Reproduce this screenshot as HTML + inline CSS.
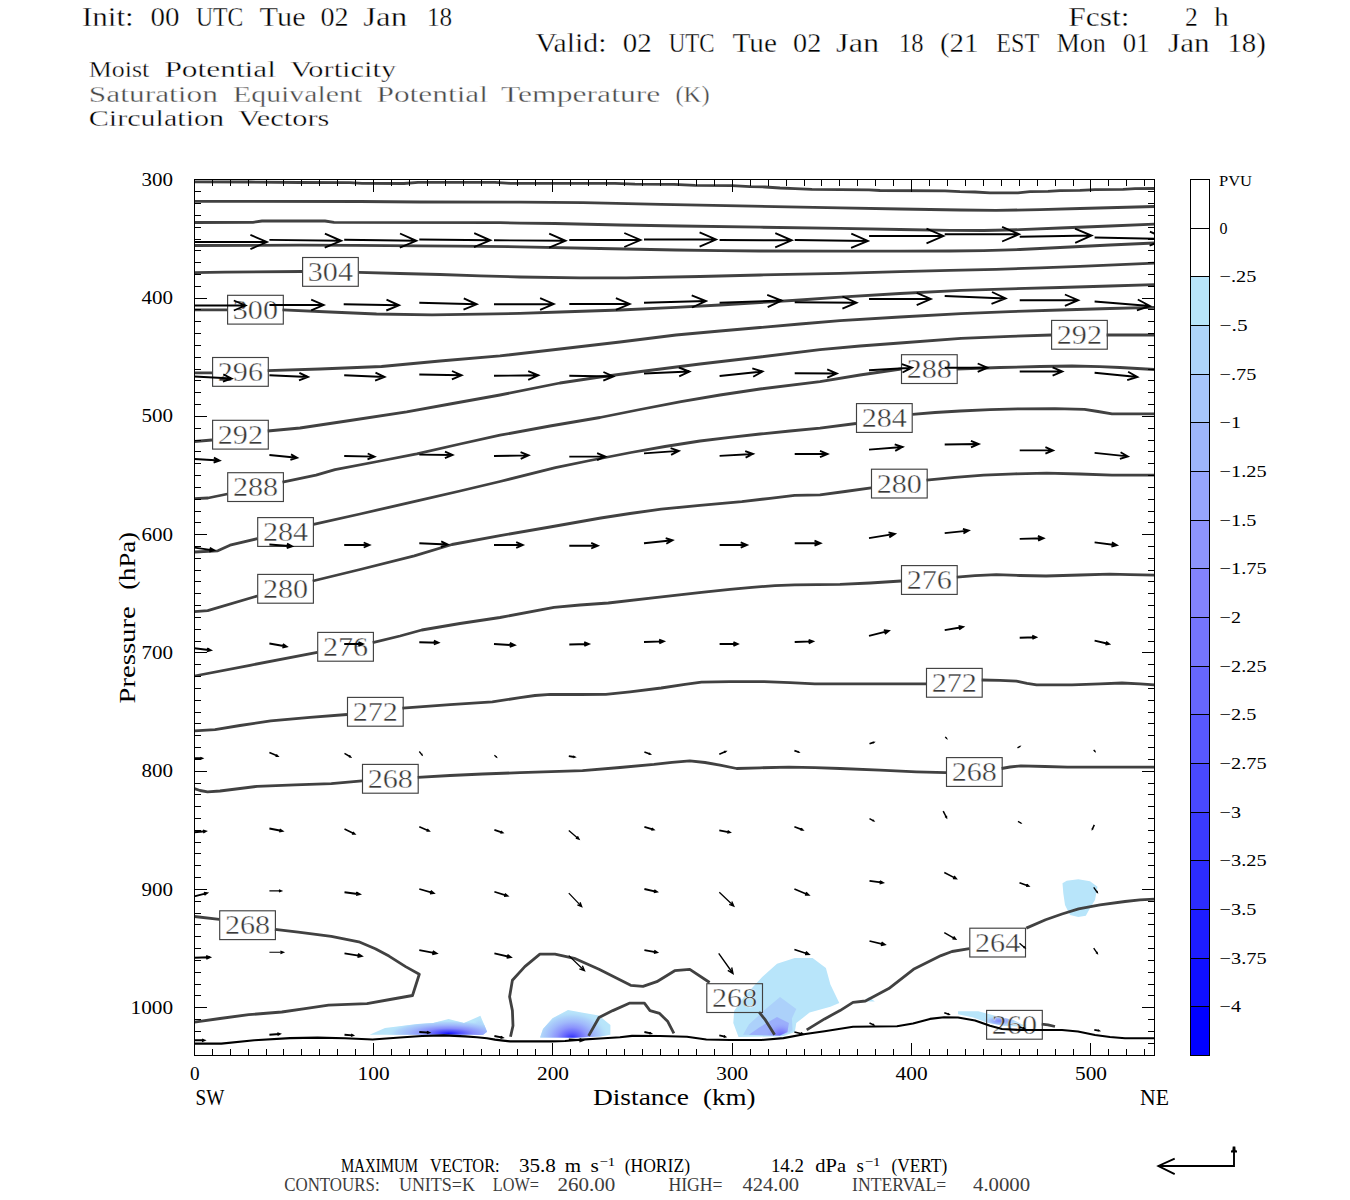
<!DOCTYPE html>
<html lang="en"><head><meta charset="utf-8"><title>Moist Potential Vorticity cross section</title>
<style>
html,body{margin:0;padding:0;background:#fff;}
svg{display:block;}
text{font-family:"Liberation Serif",serif;fill:#000;white-space:pre;}
.ax{font-size:18.4px;}
.lab{font-size:27px;fill:#383838;stroke:#fff;stroke-width:0.4px;}
.ct{fill:none;stroke:#414141;stroke-width:2.8;stroke-linejoin:round;stroke-linecap:butt;}
.bx{fill:none;stroke:#414141;stroke-width:1.15;}
.ar{fill:none;stroke:#000;stroke-width:1.25;stroke-linecap:butt;stroke-linejoin:miter;}
.tk{stroke:#000;stroke-width:1;fill:none;shape-rendering:crispEdges;}
</style></head><body>
<svg width="1350" height="1200" viewBox="0 0 1350 1200">
<rect x="0" y="0" width="1350" height="1200" fill="#fff"/>
<defs>
<clipPath id="pc"><rect x="194.5" y="179.5" width="960.0" height="876.0"/></clipPath>
<radialGradient id="g1" gradientUnits="userSpaceOnUse" cx="0" cy="0" r="1" gradientTransform="translate(448.6 1033.5) scale(62.0 13.0)">
<stop offset="0.00" stop-color="#1414ff"/>
<stop offset="0.18" stop-color="#5050fe"/>
<stop offset="0.40" stop-color="#878cfc"/>
<stop offset="0.65" stop-color="#a0b9fb"/>
<stop offset="0.85" stop-color="#aed4fa"/>
<stop offset="1.00" stop-color="#b8e5fa" stop-opacity="0"/>
</radialGradient>
<radialGradient id="g1b" gradientUnits="userSpaceOnUse" cx="0" cy="0" r="1" gradientTransform="translate(479.0 1034.0) scale(9.0 16.0)">
<stop offset="0.00" stop-color="#7d80fd"/>
<stop offset="0.50" stop-color="#a0b9fb"/>
<stop offset="1.00" stop-color="#b8e5fa" stop-opacity="0"/>
</radialGradient>
<radialGradient id="g2" gradientUnits="userSpaceOnUse" cx="0" cy="0" r="1" gradientTransform="translate(571.9 1038.5) scale(38.0 28.0)">
<stop offset="0.00" stop-color="#2828fe"/>
<stop offset="0.20" stop-color="#6464fd"/>
<stop offset="0.40" stop-color="#8c94fc"/>
<stop offset="0.60" stop-color="#a0b9fb"/>
<stop offset="0.80" stop-color="#aed4fa"/>
<stop offset="1.00" stop-color="#b8e5fa" stop-opacity="0"/>
</radialGradient>
<radialGradient id="g3" gradientUnits="userSpaceOnUse" cx="0" cy="0" r="1" gradientTransform="translate(781.0 1036.0) scale(16.0 14.0)">
<stop offset="0.00" stop-color="#6464fd"/>
<stop offset="0.45" stop-color="#878cfc"/>
<stop offset="1.00" stop-color="#9baffb" stop-opacity="0"/>
</radialGradient>
<radialGradient id="g5" gradientUnits="userSpaceOnUse" cx="0" cy="0" r="1" gradientTransform="translate(1000.0 1021.0) scale(18.0 6.0)">
<stop offset="0.00" stop-color="#7d82fd"/>
<stop offset="0.50" stop-color="#a0b9fb"/>
<stop offset="1.00" stop-color="#b8e5fa" stop-opacity="0"/>
</radialGradient>
</defs>
<g clip-path="url(#pc)">
<polygon points="369.6,1034.7 385.0,1027.9 417.8,1024.1 433.2,1023.1 448.6,1018.9 464.0,1023.1 480.4,1015.8 487.1,1031.8 483.0,1034.7" fill="#b8e5fa"/>
<polygon points="369.6,1034.7 385.0,1027.9 417.8,1024.1 433.2,1023.1 448.6,1018.9 464.0,1023.1 480.4,1015.8 487.1,1031.8 483.0,1034.7" fill="url(#g1b)"/>
<polygon points="369.6,1034.7 385.0,1027.9 417.8,1024.1 433.2,1023.1 448.6,1018.9 464.0,1023.1 480.4,1015.8 487.1,1031.8 483.0,1034.7" fill="url(#g1)"/>
<polygon points="540.1,1037.6 543.0,1028.9 552.6,1018.3 568.0,1010.0 581.5,1012.5 598.8,1015.4 610.4,1025.0 610.4,1034.7 600.0,1036.5 575.0,1037.8" fill="#b8e5fa"/>
<polygon points="540.1,1037.6 543.0,1028.9 552.6,1018.3 568.0,1010.0 581.5,1012.5 598.8,1015.4 610.4,1025.0 610.4,1034.7 600.0,1036.5 575.0,1037.8" fill="url(#g2)"/>
<polygon points="734.1,1011.1 744.4,996.3 762.2,977.0 777.0,963.7 794.8,958.1 812.6,958.1 825.9,968.1 830.4,984.4 839.3,1003.0 830.4,1006.7 809.6,1012.6 796.3,1023.0 794.8,1031.9 783.0,1036.3 738.5,1037.0 733.3,1023.0" fill="#b8e5fa"/>
<polygon points="743.0,1034.8 748.9,1024.4 765.2,1009.6 780.0,997.0 796.3,1008.9 791.9,1018.5 792.6,1030.4 783.0,1035.6" fill="#acd1fa"/>
<polygon points="748.9,1034.8 759.3,1027.4 777.0,1017.0 788.9,1023.0 787.4,1031.9 780.0,1035.6" fill="#9baffb"/>
<polygon points="748.9,1034.8 759.3,1027.4 777.0,1017.0 788.9,1023.0 787.4,1031.9 780.0,1035.6" fill="url(#g3)"/>
<polygon points="863,1001.5 869,997 874.8,1001.5" fill="#b8e5fa"/>
<polygon points="1062.5,883.3 1066.7,880.8 1078.3,879.2 1090.0,881.3 1097.5,886.7 1095.0,900.0 1090.8,906.7 1085.8,915.8 1078.3,917.0 1070.0,915.0 1065.0,905.0 1063.3,893.3" fill="#b8e5fa"/>
<polygon points="958.0,1011.3 978.3,1011.3 995.0,1015.8 1013.3,1020.0 1023.3,1025.0 1025.0,1026.7 1003.3,1025.8 986.7,1022.5 973.3,1017.5 958.0,1014.2" fill="#b8e5fa"/>
<polygon points="958.0,1011.3 978.3,1011.3 995.0,1015.8 1013.3,1020.0 1023.3,1025.0 1025.0,1026.7 1003.3,1025.8 986.7,1022.5 973.3,1017.5 958.0,1014.2" fill="url(#g5)"/>
</g>
<g clip-path="url(#pc)">
<polyline class="ct" points="194.4,181.8 250.0,182.0 300.0,182.5 350.0,182.7 362.0,183.4 404.0,183.5 418.0,182.4 495.0,182.4 510.0,183.3 615.0,183.3 635.0,184.2 674.0,184.3 695.0,185.3 732.0,185.6 750.0,186.6 765.0,187.0 780.0,188.0 795.0,188.6 812.0,189.4 869.0,189.8 880.0,190.5 945.0,190.8 960.0,191.6 975.0,192.0 990.0,192.9 1018.0,192.9 1030.0,191.7 1048.0,191.3 1060.0,190.6 1080.0,190.3 1095.0,189.6 1123.0,189.4 1135.0,188.7 1154.5,188.5"/>
<polyline class="ct" points="194.4,201.3 360.0,201.5 420.0,202.0 520.0,202.2 583.0,202.7 661.0,204.3 752.0,206.2 840.0,207.8 900.0,209.0 960.0,210.0 996.0,210.3 1040.0,209.7 1080.0,208.5 1154.5,206.5"/>
<polyline class="ct" points="194.4,222.5 253.0,222.3 262.0,221.0 325.0,221.0 334.0,222.3 500.0,222.6 520.0,223.1 555.0,223.5 620.0,225.0 680.0,226.0 760.0,227.2 840.0,228.4 900.0,229.5 950.0,230.3 983.7,230.5 1020.0,229.7 1060.0,228.0 1110.0,226.0 1154.5,224.2"/>
<polyline class="ct" points="194.4,245.5 300.0,245.2 356.0,245.3 420.0,245.8 457.0,246.2 520.0,246.8 600.0,248.5 676.0,250.0 720.0,250.6 760.0,251.0 840.0,251.1 900.0,251.2 950.0,251.0 983.7,250.6 1020.0,249.5 1060.0,247.5 1110.0,245.0 1154.5,243.0"/>
<polyline class="ct" points="194.4,272.7 225.0,272.1 302.0,271.5"/>
<polyline class="ct" points="359.0,272.3 400.0,273.5 440.0,274.5 480.0,275.8 520.0,277.0 580.0,277.8 626.0,277.8 700.0,276.5 760.0,275.0 840.0,273.3 900.0,271.6 950.0,270.4 996.0,269.4 1040.0,267.9 1080.0,266.3 1154.5,263.2"/>
<polyline class="ct" points="194.4,309.8 227.0,309.8"/>
<polyline class="ct" points="282.5,309.8 330.0,312.0 376.5,314.0 432.0,314.8 480.0,314.2 520.0,313.4 560.0,312.0 620.0,310.0 676.0,307.3 720.0,305.0 760.0,302.5 800.0,300.0 840.0,297.2 900.0,293.5 961.0,290.4 1010.0,288.8 1060.0,287.5 1110.0,286.0 1154.5,284.6"/>
<polyline class="ct" points="194.4,372.8 212.0,372.8"/>
<polyline class="ct" points="267.7,370.7 320.0,369.0 381.5,366.5 440.0,361.0 500.0,355.9 560.0,349.0 620.0,342.0 676.0,335.0 720.0,331.0 760.0,327.5 800.0,324.0 840.0,320.6 900.0,317.0 961.0,313.6 1010.0,311.6 1060.0,310.0 1110.0,308.5 1154.5,307.3"/>
<polyline class="ct" points="194.4,441.5 212.0,440.0"/>
<polyline class="ct" points="267.7,431.0 300.0,428.0 350.0,420.5 406.7,411.8 450.0,404.0 500.0,395.0 560.0,383.0 600.0,377.0 641.0,371.5 700.0,364.0 760.0,357.0 820.0,349.6 860.0,346.0 900.0,343.0 961.0,338.3 1010.0,336.3 1051.2,335.0"/>
<polyline class="ct" points="1106.6,335.0 1154.5,335.0"/>
<polyline class="ct" points="194.4,498.6 208.0,498.0 227.4,494.0"/>
<polyline class="ct" points="282.5,482.2 316.0,475.2 335.0,469.7 375.0,462.0 416.8,453.8 460.0,444.0 500.0,435.2 550.0,426.0 600.0,417.5 640.0,409.5 681.0,401.7 720.0,395.0 760.0,389.0 820.0,381.6 860.0,375.0 901.0,369.0"/>
<polyline class="ct" points="956.8,369.0 1000.0,367.5 1040.0,366.5 1072.0,366.0 1100.0,366.6 1120.0,367.5 1154.5,369.5"/>
<polyline class="ct" points="194.4,552.0 217.8,550.8 230.0,545.2 257.3,538.7"/>
<polyline class="ct" points="313.5,524.3 360.0,514.0 419.3,500.4 460.0,491.0 500.0,481.5 555.4,467.6 590.0,460.5 631.0,452.5 665.0,446.5 700.0,441.0 730.0,437.3 760.0,434.0 790.0,431.0 820.0,428.2 856.0,423.5"/>
<polyline class="ct" points="912.4,414.3 935.0,412.5 960.0,411.0 990.0,409.7 1021.5,408.8 1055.0,408.7 1084.5,409.3 1098.0,411.5 1112.0,413.8 1154.5,413.8"/>
<polyline class="ct" points="194.4,611.7 207.7,610.7 257.3,596.0"/>
<polyline class="ct" points="312.7,581.0 360.0,569.5 414.3,555.8 452.0,544.5 500.0,535.6 550.0,527.0 600.8,518.0 630.0,513.5 661.2,509.2 700.0,505.3 741.8,501.6 770.0,498.3 794.7,495.3 820.0,494.8 845.0,491.5 871.1,487.8"/>
<polyline class="ct" points="926.5,480.2 955.0,477.3 983.7,475.2 1015.0,473.8 1046.7,473.2 1080.0,474.0 1112.0,475.2 1154.5,475.2"/>
<polyline class="ct" points="194.4,676.0 250.0,665.3 317.3,652.3"/>
<polyline class="ct" points="372.7,642.7 400.0,636.0 421.8,630.0 460.0,623.5 500.0,617.5 554.0,607.4 580.0,605.0 608.3,603.0 655.0,597.7 701.5,592.3 730.0,589.3 752.0,587.3 775.0,585.7 794.7,584.8 840.0,584.3 870.0,583.0 901.0,581.0"/>
<polyline class="ct" points="956.8,577.2 975.0,575.7 996.3,574.7 1020.0,575.5 1046.0,576.0 1080.0,575.0 1109.7,574.2 1130.0,574.6 1154.5,575.2"/>
<polyline class="ct" points="194.4,730.9 215.0,729.6 240.0,725.5 270.7,720.8 310.0,717.3 347.0,714.5"/>
<polyline class="ct" points="402.4,708.2 450.0,704.7 492.3,701.9 520.0,697.6 535.0,695.5 550.4,694.3 580.0,694.5 605.8,694.3 630.0,691.8 661.2,688.0 685.0,684.3 701.5,682.2 730.0,681.6 764.0,681.7 790.0,682.7 814.9,683.8 870.0,683.8 926.0,683.8"/>
<polyline class="ct" points="981.7,680.0 1000.0,680.3 1016.5,681.2 1027.0,683.3 1036.6,684.8 1072.0,684.8 1100.0,683.8 1122.0,683.0 1140.0,683.8 1154.5,684.8"/>
<polyline class="ct" points="194.4,788.6 200.0,790.5 207.5,791.9 220.0,791.0 257.0,786.4 295.0,784.8 331.3,783.6 362.1,780.9"/>
<polyline class="ct" points="417.7,777.3 450.0,775.5 482.6,774.0 520.0,772.6 582.5,770.7 620.0,767.5 654.0,764.4 672.0,762.3 689.8,760.8 705.0,762.5 720.0,765.2 736.6,768.5 760.0,767.8 788.9,767.1 815.0,767.7 840.0,768.5 880.0,770.2 916.3,771.8 946.0,772.6"/>
<polyline class="ct" points="1001.6,768.5 1010.0,767.0 1020.8,765.8 1045.0,766.5 1067.6,767.1 1154.5,767.1"/>
<polyline class="ct" points="194.4,916.5 219.3,919.3"/>
<polyline class="ct" points="274.9,929.4 298.3,932.2 331.3,936.3 358.8,941.8 375.3,948.7 389.0,956.1 405.6,966.6 419.3,974.3 412.5,995.5 390.0,999.5 367.0,1003.7 328.6,1005.1 305.0,1008.6 281.8,1012.0 248.8,1014.7 220.0,1018.5 194.4,1022.2"/>
<polyline class="ct" points="510.5,1036.7 513.0,1025.7 512.4,1010.6 509.6,996.8 512.4,980.3 524.8,966.6 539.9,954.2 555.0,954.2 574.3,958.3 599.0,969.3 630.7,985.3 643.0,986.4 656.8,981.7 674.7,970.7 689.8,969.3 709.6,982.5"/>
<polyline class="ct" points="759.0,1012.0 765.5,1020.2 774.6,1034.8"/>
<polyline class="ct" points="588.6,1035.9 599.0,1017.5 612.8,1010.6 629.3,1003.2 644.4,1003.2 650.0,1010.6 659.6,1013.4 667.8,1021.6 673.9,1033.4"/>
<polyline class="ct" points="806.7,1029.9 824.6,1018.9 840.0,1010.6 853.0,1002.4 865.4,1001.0 888.8,988.6 913.5,969.3 941.0,955.6 952.0,951.5 969.4,948.7"/>
<polyline class="ct" points="1026.3,928.1 1045.6,919.8 1062.0,914.0 1078.6,908.8 1100.0,904.8 1125.0,901.5 1140.0,899.8 1154.5,899.2"/>
<polyline class="ct" points="1041.7,1024.2 1048.0,1024.8 1055.0,1026.5"/>
</g>
<rect class="bx" x="302.6" y="257.5" width="55.7" height="28.8"/>
<text class="lab" x="307.8" y="281.1" textLength="45.2" lengthAdjust="spacingAndGlyphs">304</text>
<rect class="bx" x="227.6" y="295.3" width="55.7" height="28.8"/>
<text class="lab" x="232.8" y="318.9" textLength="45.2" lengthAdjust="spacingAndGlyphs">300</text>
<rect class="bx" x="212.6" y="357.5" width="55.7" height="28.8"/>
<text class="lab" x="217.8" y="381.1" textLength="45.2" lengthAdjust="spacingAndGlyphs">296</text>
<rect class="bx" x="212.6" y="420.3" width="55.7" height="28.8"/>
<text class="lab" x="217.8" y="443.9" textLength="45.2" lengthAdjust="spacingAndGlyphs">292</text>
<rect class="bx" x="227.7" y="472.7" width="55.7" height="28.8"/>
<text class="lab" x="232.9" y="496.3" textLength="45.2" lengthAdjust="spacingAndGlyphs">288</text>
<rect class="bx" x="257.7" y="517.6" width="55.7" height="28.8"/>
<text class="lab" x="262.9" y="541.2" textLength="45.2" lengthAdjust="spacingAndGlyphs">284</text>
<rect class="bx" x="257.7" y="574.4" width="55.7" height="28.8"/>
<text class="lab" x="262.9" y="598.0" textLength="45.2" lengthAdjust="spacingAndGlyphs">280</text>
<rect class="bx" x="317.7" y="632.4" width="55.7" height="28.8"/>
<text class="lab" x="322.9" y="656.0" textLength="45.2" lengthAdjust="spacingAndGlyphs">276</text>
<rect class="bx" x="347.5" y="697.4" width="55.7" height="28.8"/>
<text class="lab" x="352.7" y="721.0" textLength="45.2" lengthAdjust="spacingAndGlyphs">272</text>
<rect class="bx" x="362.5" y="764.4" width="55.7" height="28.8"/>
<text class="lab" x="367.7" y="788.0" textLength="45.2" lengthAdjust="spacingAndGlyphs">268</text>
<rect class="bx" x="219.7" y="910.8" width="55.7" height="28.8"/>
<text class="lab" x="224.9" y="934.4" textLength="45.2" lengthAdjust="spacingAndGlyphs">268</text>
<rect class="bx" x="1051.6" y="320.4" width="55.7" height="28.8"/>
<text class="lab" x="1056.8" y="344.0" textLength="45.2" lengthAdjust="spacingAndGlyphs">292</text>
<rect class="bx" x="901.5" y="354.7" width="55.7" height="28.8"/>
<text class="lab" x="906.7" y="378.3" textLength="45.2" lengthAdjust="spacingAndGlyphs">288</text>
<rect class="bx" x="856.5" y="403.6" width="55.7" height="28.8"/>
<text class="lab" x="861.7" y="427.2" textLength="45.2" lengthAdjust="spacingAndGlyphs">284</text>
<rect class="bx" x="871.5" y="469.2" width="55.7" height="28.8"/>
<text class="lab" x="876.7" y="492.8" textLength="45.2" lengthAdjust="spacingAndGlyphs">280</text>
<rect class="bx" x="901.5" y="565.6" width="55.7" height="28.8"/>
<text class="lab" x="906.7" y="589.2" textLength="45.2" lengthAdjust="spacingAndGlyphs">276</text>
<rect class="bx" x="926.5" y="668.4" width="55.7" height="28.8"/>
<text class="lab" x="931.7" y="692.0" textLength="45.2" lengthAdjust="spacingAndGlyphs">272</text>
<rect class="bx" x="946.5" y="757.6" width="55.7" height="28.8"/>
<text class="lab" x="951.7" y="781.2" textLength="45.2" lengthAdjust="spacingAndGlyphs">268</text>
<rect class="bx" x="969.8" y="928.2" width="55.7" height="28.8"/>
<text class="lab" x="975.0" y="951.8" textLength="45.2" lengthAdjust="spacingAndGlyphs">264</text>
<rect class="bx" x="706.8" y="983.7" width="55.7" height="28.8"/>
<text class="lab" x="712.0" y="1007.3" textLength="45.2" lengthAdjust="spacingAndGlyphs">268</text>
<rect class="bx" x="986.6" y="1010.4" width="55.7" height="28.8"/>
<text class="lab" x="991.8" y="1034.0" textLength="45.2" lengthAdjust="spacingAndGlyphs">260</text>
<polyline points="194.4,1043.6 221.3,1043.6 254.3,1040.3 290.0,1038.1 317.6,1037.6 345.0,1038.3 372.6,1039.5 400.0,1037.5 422.0,1036.0 444.0,1035.4 465.0,1036.4 477.0,1037.2 487.0,1038.3 495.0,1039.6 503.0,1040.6 510.0,1041.4 552.0,1041.4 565.0,1041.0 581.5,1039.6 600.0,1038.5 620.0,1037.2 632.0,1035.9 660.0,1036.0 687.0,1036.7 706.3,1039.5 730.0,1040.0 761.3,1040.0 783.4,1038.1 805.4,1034.0 824.6,1031.2 853.0,1026.8 897.0,1026.3 913.0,1023.5 930.0,1018.9 944.0,1017.3 958.0,1017.5 975.0,1020.5 990.0,1025.8 1002.0,1029.0 1020.0,1030.0 1062.0,1030.0 1078.0,1031.5 1095.0,1035.0 1110.0,1037.0 1125.0,1038.3 1154.5,1038.3" fill="none" stroke="#000" stroke-width="2.1" stroke-linejoin="round" clip-path="url(#pc)"/>
<g clip-path="url(#pc)">
<path class="ar" style="stroke-width:1.90" d="M194.4 242.0L266.9 242.0M250.4 249.1L266.9 242.0L250.4 234.9"/>
<path class="ar" style="stroke-width:1.90" d="M269.4 239.9L341.2 240.8M324.7 247.6L341.2 240.8L324.9 233.6"/>
<path class="ar" style="stroke-width:1.90" d="M344.2 239.7L416.3 240.8M399.8 247.6L416.3 240.8L400.0 233.5"/>
<path class="ar" style="stroke-width:1.90" d="M419.3 239.5L490.3 240.3M474.0 247.1L490.3 240.3L474.2 233.2"/>
<path class="ar" style="stroke-width:1.90" d="M494.0 240.3L565.5 240.8M549.1 247.7L565.5 240.8L549.2 233.7"/>
<path class="ar" style="stroke-width:1.90" d="M569.3 240.0L640.5 240.0M624.3 247.0L640.5 240.0L624.3 233.0"/>
<path class="ar" style="stroke-width:1.90" d="M644.0 239.5L716.0 239.5M699.6 246.6L716.0 239.5L699.6 232.4"/>
<path class="ar" style="stroke-width:1.90" d="M719.6 240.0L791.7 240.3M775.2 247.3L791.7 240.3L775.3 233.2"/>
<path class="ar" style="stroke-width:1.90" d="M794.7 240.0L867.9 241.0M851.1 247.9L867.9 241.0L851.3 233.6"/>
<path class="ar" style="stroke-width:1.90" d="M869.1 236.0L943.4 236.0M926.5 243.3L943.4 236.0L926.5 228.7"/>
<path class="ar" style="stroke-width:1.90" d="M944.7 234.2L1019.0 234.2M1002.1 241.5L1019.0 234.2L1002.1 226.9"/>
<path class="ar" style="stroke-width:1.90" d="M1019.7 236.7L1091.5 235.5M1075.2 242.8L1091.5 235.5L1075.0 228.7"/>
<path class="ar" style="stroke-width:1.90" d="M1094.6 237.5L1166.0 238.9M1149.6 245.6L1166.0 238.9L1149.9 231.6"/>
<path class="ar" style="stroke-width:1.90" d="M194.4 305.5L245.5 305.5M233.8 310.5L245.5 305.5L233.8 300.5"/>
<path class="ar" style="stroke-width:1.90" d="M269.4 305.0L323.6 305.0M311.2 310.3L323.6 305.0L311.2 299.7"/>
<path class="ar" style="stroke-width:1.90" d="M343.7 304.3L399.0 305.3M386.3 310.5L399.0 305.3L386.5 299.7"/>
<path class="ar" style="stroke-width:1.90" d="M419.3 302.7L476.7 304.3M463.5 309.6L476.7 304.3L463.8 298.3"/>
<path class="ar" style="stroke-width:1.90" d="M494.0 304.3L553.7 304.0M540.1 309.9L553.7 304.0L540.1 298.2"/>
<path class="ar" style="stroke-width:1.90" d="M569.3 304.0L629.7 304.0M615.9 309.9L629.7 304.0L615.9 298.1"/>
<path class="ar" style="stroke-width:1.90" d="M644.0 302.7L706.0 301.0M692.0 307.5L706.0 301.0L691.7 295.3"/>
<path class="ar" style="stroke-width:1.90" d="M719.6 302.7L781.6 300.5M767.7 307.1L781.6 300.5L767.2 294.9"/>
<path class="ar" style="stroke-width:1.90" d="M794.7 302.2L856.5 302.7M842.4 308.6L856.5 302.7L842.5 296.5"/>
<path class="ar" style="stroke-width:1.90" d="M869.0 299.0L930.8 299.0M916.7 305.1L930.8 299.0L916.7 292.9"/>
<path class="ar" style="stroke-width:1.90" d="M944.7 296.0L1005.6 298.5M991.5 303.9L1005.6 298.5L992.0 292.0"/>
<path class="ar" style="stroke-width:1.90" d="M1019.7 300.2L1078.2 300.2M1064.9 305.9L1078.2 300.2L1064.9 294.5"/>
<path class="ar" style="stroke-width:1.89" d="M1094.6 301.5L1150.0 306.0M1136.9 310.4L1150.0 306.0L1137.8 299.5"/>
<path class="ar" style="stroke-width:1.89" d="M194.4 376.5L231.6 378.5M222.9 381.7L231.6 378.5L223.3 374.4"/>
<path class="ar" style="stroke-width:1.90" d="M269.4 375.3L308.0 377.0M299.0 380.4L308.0 377.0L299.4 372.8"/>
<path class="ar" style="stroke-width:1.90" d="M344.2 375.3L384.5 377.0M375.1 380.6L384.5 377.0L375.5 372.7"/>
<path class="ar" style="stroke-width:1.90" d="M419.3 374.5L461.6 375.3M451.9 379.3L461.6 375.3L452.0 371.0"/>
<path class="ar" style="stroke-width:1.90" d="M494.0 375.8L538.3 375.3M528.2 379.8L538.3 375.3L528.2 371.1"/>
<path class="ar" style="stroke-width:1.90" d="M569.3 375.8L613.4 376.5M603.3 380.7L613.4 376.5L603.4 372.0"/>
<path class="ar" style="stroke-width:1.90" d="M644.0 373.5L689.4 371.5M679.2 376.4L689.4 371.5L678.9 367.5"/>
<path class="ar" style="stroke-width:1.88" d="M719.6 376.0L762.5 371.5M753.2 376.7L762.5 371.5L752.3 368.3"/>
<path class="ar" style="stroke-width:1.90" d="M794.7 373.3L836.8 373.5M827.2 377.6L836.8 373.5L827.2 369.3"/>
<path class="ar" style="stroke-width:1.89" d="M869.0 370.3L912.0 367.7M902.5 372.5L912.0 367.7L901.9 364.1"/>
<path class="ar" style="stroke-width:1.90" d="M944.7 367.7L987.5 367.7M977.7 371.9L987.5 367.7L977.7 363.5"/>
<path class="ar" style="stroke-width:1.90" d="M1019.7 371.5L1062.3 371.5M1052.6 375.7L1062.3 371.5L1052.6 367.3"/>
<path class="ar" style="stroke-width:1.88" d="M1094.6 372.8L1137.4 377.0M1127.2 380.2L1137.4 377.0L1128.1 371.8"/>
<path class="ar" style="stroke-width:1.89" d="M194.4 459.0L219.5 460.5M213.6 462.6L219.5 460.5L213.9 457.7"/>
<path class="ar" style="stroke-width:1.88" d="M269.4 455.0L297.0 457.7M290.4 459.8L297.0 457.7L291.0 454.4"/>
<path class="ar" style="stroke-width:1.90" d="M344.2 456.0L374.5 456.6M367.5 459.4L374.5 456.6L367.7 453.5"/>
<path class="ar" style="stroke-width:1.90" d="M419.3 454.6L452.5 455.0M444.9 458.2L452.5 455.0L445.0 451.7"/>
<path class="ar" style="stroke-width:1.90" d="M494.0 456.0L528.5 455.4M520.7 458.9L528.5 455.4L520.6 452.2"/>
<path class="ar" style="stroke-width:1.90" d="M569.3 456.6L605.3 456.6M597.1 460.1L605.3 456.6L597.1 453.1"/>
<path class="ar" style="stroke-width:1.89" d="M644.0 453.4L678.8 450.9M671.1 454.9L678.8 450.9L670.6 448.1"/>
<path class="ar" style="stroke-width:1.89" d="M719.6 455.9L753.0 454.0M745.6 457.7L753.0 454.0L745.2 451.2"/>
<path class="ar" style="stroke-width:1.90" d="M794.7 454.0L827.5 454.0M820.0 457.2L827.5 454.0L820.0 450.8"/>
<path class="ar" style="stroke-width:1.89" d="M869.0 449.6L902.6 447.0M895.2 450.9L902.6 447.0L894.7 444.3"/>
<path class="ar" style="stroke-width:1.90" d="M944.7 444.5L978.7 444.0M971.0 447.4L978.7 444.0L970.9 440.8"/>
<path class="ar" style="stroke-width:1.90" d="M1019.7 450.4L1053.0 450.4M1045.4 453.7L1053.0 450.4L1045.4 447.1"/>
<path class="ar" style="stroke-width:1.88" d="M1094.6 452.9L1127.8 456.4M1119.9 458.9L1127.8 456.4L1120.6 452.3"/>
<path class="ar" style="stroke-width:1.86" d="M194.4 547.7L214.0 550.3M209.3 551.6L214.0 550.3L209.8 547.8"/>
<path class="ar" style="stroke-width:1.89" d="M269.4 544.5L292.0 546.2M286.7 548.0L292.0 546.2L287.0 543.6"/>
<path class="ar" style="stroke-width:1.90" d="M344.2 545.0L369.4 545.0M363.7 547.5L369.4 545.0L363.7 542.5"/>
<path class="ar" style="stroke-width:1.90" d="M419.3 543.2L447.5 544.5M440.9 547.0L447.5 544.5L441.2 541.4"/>
<path class="ar" style="stroke-width:1.90" d="M494.0 545.0L522.7 545.0M516.2 547.8L522.7 545.0L516.2 542.2"/>
<path class="ar" style="stroke-width:1.90" d="M569.3 545.7L597.7 545.7M591.2 548.5L597.7 545.7L591.2 542.9"/>
<path class="ar" style="stroke-width:1.88" d="M644.0 543.2L672.5 540.2M666.3 543.7L672.5 540.2L665.7 538.1"/>
<path class="ar" style="stroke-width:1.90" d="M719.6 545.0L746.9 545.0M740.7 547.7L746.9 545.0L740.7 542.3"/>
<path class="ar" style="stroke-width:1.90" d="M794.7 543.2L820.4 543.2M814.5 545.7L820.4 543.2L814.5 540.7"/>
<path class="ar" style="stroke-width:1.84" d="M869.0 538.2L894.8 533.9M889.3 537.4L894.8 533.9L888.5 532.4"/>
<path class="ar" style="stroke-width:1.88" d="M944.7 533.1L968.6 530.6M963.4 533.5L968.6 530.6L962.9 528.8"/>
<path class="ar" style="stroke-width:1.90" d="M1019.7 538.9L1043.4 538.2M1038.1 540.7L1043.4 538.2L1037.9 536.0"/>
<path class="ar" style="stroke-width:1.87" d="M1094.6 542.4L1116.7 545.2M1111.4 546.7L1116.7 545.2L1111.9 542.4"/>
<path class="ar" style="stroke-width:1.87" d="M194.4 648.2L210.7 650.3M206.8 651.4L210.7 650.3L207.2 648.2"/>
<path class="ar" style="stroke-width:1.84" d="M269.4 643.5L286.5 646.5M282.3 647.5L286.5 646.5L282.9 644.1"/>
<path class="ar" style="stroke-width:1.90" d="M344.2 644.0L362.6 644.0M358.4 645.8L362.6 644.0L358.4 642.2"/>
<path class="ar" style="stroke-width:1.90" d="M419.3 642.2L438.2 642.7M433.8 644.4L438.2 642.7L433.9 640.7"/>
<path class="ar" style="stroke-width:1.89" d="M494.0 644.0L514.5 645.2M509.7 646.9L514.5 645.2L509.9 642.9"/>
<path class="ar" style="stroke-width:1.90" d="M569.3 644.5L588.7 644.0M584.3 646.0L588.7 644.0L584.2 642.2"/>
<path class="ar" style="stroke-width:1.90" d="M644.0 642.0L663.7 641.4M659.3 643.5L663.7 641.4L659.1 639.6"/>
<path class="ar" style="stroke-width:1.90" d="M719.6 644.0L737.5 644.0M733.4 645.8L737.5 644.0L733.4 642.2"/>
<path class="ar" style="stroke-width:1.90" d="M794.7 642.0L812.8 641.4M808.7 643.3L812.8 641.4L808.6 639.8"/>
<path class="ar" style="stroke-width:1.78" d="M869.0 635.9L888.8 630.9M884.8 634.0L888.8 630.9L883.8 630.1"/>
<path class="ar" style="stroke-width:1.84" d="M944.7 630.1L963.0 627.0M959.1 629.5L963.0 627.0L958.5 625.9"/>
<path class="ar" style="stroke-width:1.90" d="M1019.7 637.7L1035.9 637.2M1032.3 638.9L1035.9 637.2L1032.2 635.7"/>
<path class="ar" style="stroke-width:1.80" d="M1094.6 640.7L1109.0 644.0M1105.4 644.7L1109.0 644.0L1106.0 641.8"/>
<path class="ar" style="stroke-width:1.90" d="M194.3 758.3L202.0 758.3M200.2 759.1L202.0 758.3L200.2 757.5"/>
<path class="ar" style="stroke-width:1.62" d="M269.4 752.6L277.7 756.1M275.5 756.1L277.7 756.1L276.2 754.5"/>
<path class="ar" style="stroke-width:1.47" d="M344.5 753.4L350.6 757.0M348.9 756.8L350.6 757.0L349.6 755.6"/>
<path class="ar" style="stroke-width:1.33" d="M419.3 751.5L422.0 754.8M421.1 754.3L422.0 754.8L421.7 753.8"/>
<path class="ar" style="stroke-width:1.32" d="M494.4 755.3L496.4 757.0M495.8 756.8L496.4 757.0L496.1 756.4"/>
<path class="ar" style="stroke-width:1.84" d="M568.8 756.1L574.3 757.0M573.0 757.3L574.3 757.0L573.1 756.3"/>
<path class="ar" style="stroke-width:1.68" d="M644.4 752.0L650.0 754.0M648.5 754.1L650.0 754.0L648.9 753.0"/>
<path class="ar" style="stroke-width:1.61" d="M719.3 754.2L725.6 751.5M724.4 752.7L725.6 751.5L723.9 751.5"/>
<path class="ar" style="stroke-width:1.70" d="M794.4 750.6L798.5 752.0M797.4 752.1L798.5 752.0L797.7 751.3"/>
<path class="ar" style="stroke-width:1.70" d="M869.5 743.8L873.6 742.4M872.8 743.1L873.6 742.4L872.5 742.3"/>
<path class="ar" style="stroke-width:1.29" d="M945.2 736.9L946.5 738.3M946.1 738.1L946.5 738.3L946.3 737.9"/>
<path class="ar" style="stroke-width:1.44" d="M1017.5 747.9L1019.7 746.5M1019.3 747.0L1019.7 746.5L1019.1 746.6"/>
<path class="ar" style="stroke-width:1.36" d="M1093.7 749.8L1095.0 751.5M1094.5 751.2L1095.0 751.5L1094.9 751.0"/>
<path class="ar" style="stroke-width:1.88" d="M194.3 832.3L205.6 831.2M203.1 832.6L205.6 831.2L202.9 830.3"/>
<path class="ar" style="stroke-width:1.82" d="M269.4 828.5L282.3 831.0M279.1 831.7L282.3 831.0L279.6 829.2"/>
<path class="ar" style="stroke-width:1.56" d="M344.5 829.0L354.7 834.0M351.9 833.9L354.7 834.0L352.9 831.9"/>
<path class="ar" style="stroke-width:1.61" d="M419.3 826.8L429.0 831.0M426.4 831.0L429.0 831.0L427.2 829.1"/>
<path class="ar" style="stroke-width:1.70" d="M494.4 829.9L502.4 832.6M500.3 832.8L502.4 832.6L500.8 831.2"/>
<path class="ar" style="stroke-width:1.31" d="M568.8 830.4L579.0 839.2M575.8 838.2L579.0 839.2L577.5 836.2"/>
<path class="ar" style="stroke-width:1.73" d="M644.4 826.8L653.5 829.6M651.2 829.9L653.5 829.6L651.7 828.1"/>
<path class="ar" style="stroke-width:1.83" d="M719.3 830.4L729.7 832.3M727.1 832.9L729.7 832.3L727.5 830.8"/>
<path class="ar" style="stroke-width:1.66" d="M794.4 826.8L802.6 829.9M800.4 830.0L802.6 829.9L801.0 828.4"/>
<path class="ar" style="stroke-width:1.52" d="M869.5 818.6L873.6 820.8M872.4 820.7L873.6 820.8L872.9 819.9"/>
<path class="ar" style="stroke-width:1.53" d="M943.2 811.2L946.5 817.5M945.1 816.4L946.5 817.5L946.4 815.7"/>
<path class="ar" style="stroke-width:1.46" d="M1018.0 821.3L1020.8 823.0M1020.0 822.9L1020.8 823.0L1020.3 822.3"/>
<path class="ar" style="stroke-width:1.58" d="M1094.3 824.9L1092.4 829.0M1092.4 827.9L1092.4 829.0L1093.2 828.3"/>
<path class="ar" style="stroke-width:1.77" d="M194.3 896.4L207.0 893.1M204.4 895.1L207.0 893.1L203.8 892.6"/>
<path class="ar" style="stroke-width:1.10" d="M269.4 890.9L281.8 890.9M279.0 892.1L281.8 890.9L279.0 889.7"/>
<path class="ar" style="stroke-width:1.87" d="M344.5 892.3L359.6 894.2M356.0 895.2L359.6 894.2L356.3 892.3"/>
<path class="ar" style="stroke-width:1.75" d="M419.3 889.0L433.6 893.1M429.9 893.6L433.6 893.1L430.7 890.8"/>
<path class="ar" style="stroke-width:1.72" d="M494.4 891.8L507.4 895.9M504.0 896.2L507.4 895.9L504.8 893.7"/>
<path class="ar" style="stroke-width:1.28" d="M568.8 893.1L581.7 906.6M577.4 904.8L581.7 906.6L580.1 902.3"/>
<path class="ar" style="stroke-width:1.80" d="M644.4 889.0L656.8 891.8M653.7 892.4L656.8 891.8L654.2 889.9"/>
<path class="ar" style="stroke-width:1.28" d="M719.3 892.3L733.8 906.0M729.2 904.3L733.8 906.0L731.8 901.5"/>
<path class="ar" style="stroke-width:1.62" d="M794.4 889.0L808.7 895.0M804.9 895.0L808.7 895.0L806.0 892.2"/>
<path class="ar" style="stroke-width:1.86" d="M869.5 880.8L882.7 882.7M879.5 883.6L882.7 882.7L879.9 881.0"/>
<path class="ar" style="stroke-width:1.54" d="M944.3 872.5L956.2 878.6M952.9 878.4L956.2 878.6L954.1 876.0"/>
<path class="ar" style="stroke-width:1.67" d="M1019.5 882.7L1028.5 886.0M1026.1 886.1L1028.5 886.0L1026.8 884.4"/>
<path class="ar" style="stroke-width:1.38" d="M1093.7 887.4L1097.3 892.3M1096.0 891.5L1097.3 892.3L1097.0 890.8"/>
<path class="ar" style="stroke-width:1.90" d="M194.3 957.8L209.7 957.2M206.2 958.8L209.7 957.2L206.1 955.8"/>
<path class="ar" style="stroke-width:1.10" d="M269.4 952.3L283.7 952.3M280.4 953.7L283.7 952.3L280.4 950.9"/>
<path class="ar" style="stroke-width:1.85" d="M344.5 953.4L361.6 956.1M357.4 957.2L361.6 956.1L358.0 953.8"/>
<path class="ar" style="stroke-width:1.82" d="M419.3 950.1L436.4 953.4M432.2 954.3L436.4 953.4L432.8 951.0"/>
<path class="ar" style="stroke-width:1.79" d="M494.4 953.4L510.7 957.2M506.6 957.9L510.7 957.2L507.4 954.7"/>
<path class="ar" style="stroke-width:1.28" d="M568.8 955.6L584.5 970.7M579.4 968.8L584.5 970.7L582.4 965.7"/>
<path class="ar" style="stroke-width:1.84" d="M644.4 950.1L656.8 952.3M653.8 953.0L656.8 952.3L654.2 950.6"/>
<path class="ar" style="stroke-width:1.39" d="M718.7 953.4L733.0 973.5M727.8 970.3L733.0 973.5L731.7 967.5"/>
<path class="ar" style="stroke-width:1.71" d="M794.4 949.5L808.7 954.2M805.0 954.5L808.7 954.2L805.9 951.7"/>
<path class="ar" style="stroke-width:1.79" d="M869.5 941.0L884.6 944.6M880.8 945.3L884.6 944.6L881.5 942.3"/>
<path class="ar" style="stroke-width:1.49" d="M944.3 932.7L955.6 939.1M952.4 938.7L955.6 939.1L953.7 936.5"/>
<path class="ar" style="stroke-width:1.32" d="M1019.5 943.2L1025.0 947.9M1023.3 947.4L1025.0 947.9L1024.2 946.3"/>
<path class="ar" style="stroke-width:1.40" d="M1093.7 948.2L1097.3 953.4M1096.0 952.6L1097.3 953.4L1097.0 951.9"/>
<path class="ar" style="stroke-width:1.90" d="M194.3 1040.3L204.2 1040.3M201.9 1041.3L204.2 1040.3L201.9 1039.3"/>
<path class="ar" style="stroke-width:1.89" d="M269.4 1034.8L279.6 1034.0M277.4 1035.2L279.6 1034.0L277.2 1033.2"/>
<path class="ar" style="stroke-width:1.89" d="M344.5 1034.8L352.8 1035.4M350.8 1036.1L352.8 1035.4L351.0 1034.4"/>
<path class="ar" style="stroke-width:1.89" d="M419.3 1032.0L429.0 1032.6M426.7 1033.4L429.0 1032.6L426.8 1031.5"/>
<path class="ar" style="stroke-width:1.82" d="M494.4 1036.0L502.4 1037.6M500.4 1038.0L502.4 1037.6L500.7 1036.5"/>
<path class="ar" style="stroke-width:1.89" d="M568.8 1039.5L582.5 1040.3M579.3 1041.5L582.5 1040.3L579.5 1038.8"/>
<path class="ar" style="stroke-width:1.81" d="M644.4 1032.0L650.8 1033.4M649.2 1033.7L650.8 1033.4L649.5 1032.5"/>
<path class="ar" style="stroke-width:1.80" d="M719.3 1035.4L725.0 1036.7M723.6 1037.0L725.0 1036.7L723.8 1035.8"/>
<path class="ar" style="stroke-width:1.79" d="M794.4 1032.0L802.6 1034.0M800.5 1034.3L802.6 1034.0L800.9 1032.7"/>
<path class="ar" style="stroke-width:1.58" d="M869.5 1023.0L873.6 1024.9M872.5 1024.9L873.6 1024.9L872.9 1024.1"/>
<path class="ar" style="stroke-width:1.72" d="M944.3 1012.8L948.7 1014.2M947.6 1014.3L948.7 1014.2L947.8 1013.4"/>
<path class="ar" style="stroke-width:1.70" d="M1019.5 1027.0L1024.0 1028.5M1022.8 1028.6L1024.0 1028.5L1023.1 1027.7"/>
<path class="ar" style="stroke-width:1.83" d="M1094.3 1029.9L1098.7 1030.7M1097.6 1030.9L1098.7 1030.7L1097.8 1030.1"/>
</g>
<rect class="tk" x="194.5" y="179.5" width="960.0" height="876.0"/>
<path class="tk" d="M212.5 179.5v6.5M212.5 1055.5v-6.5M230.5 179.5v6.5M230.5 1055.5v-6.5M248.5 179.5v6.5M248.5 1055.5v-6.5M266.5 179.5v6.5M266.5 1055.5v-6.5M283.5 179.5v6.5M283.5 1055.5v-6.5M301.5 179.5v6.5M301.5 1055.5v-6.5M319.5 179.5v6.5M319.5 1055.5v-6.5M337.5 179.5v6.5M337.5 1055.5v-6.5M355.5 179.5v6.5M355.5 1055.5v-6.5M373.5 179.5v12.5M373.5 1055.5v-12.5M391.5 179.5v6.5M391.5 1055.5v-6.5M409.5 179.5v6.5M409.5 1055.5v-6.5M427.5 179.5v6.5M427.5 1055.5v-6.5M445.5 179.5v6.5M445.5 1055.5v-6.5M463.5 179.5v6.5M463.5 1055.5v-6.5M481.5 179.5v6.5M481.5 1055.5v-6.5M499.5 179.5v6.5M499.5 1055.5v-6.5M517.5 179.5v6.5M517.5 1055.5v-6.5M535.5 179.5v6.5M535.5 1055.5v-6.5M552.5 179.5v12.5M552.5 1055.5v-12.5M570.5 179.5v6.5M570.5 1055.5v-6.5M588.5 179.5v6.5M588.5 1055.5v-6.5M606.5 179.5v6.5M606.5 1055.5v-6.5M624.5 179.5v6.5M624.5 1055.5v-6.5M642.5 179.5v6.5M642.5 1055.5v-6.5M660.5 179.5v6.5M660.5 1055.5v-6.5M678.5 179.5v6.5M678.5 1055.5v-6.5M696.5 179.5v6.5M696.5 1055.5v-6.5M714.5 179.5v6.5M714.5 1055.5v-6.5M732.5 179.5v12.5M732.5 1055.5v-12.5M750.5 179.5v6.5M750.5 1055.5v-6.5M768.5 179.5v6.5M768.5 1055.5v-6.5M786.5 179.5v6.5M786.5 1055.5v-6.5M804.5 179.5v6.5M804.5 1055.5v-6.5M821.5 179.5v6.5M821.5 1055.5v-6.5M839.5 179.5v6.5M839.5 1055.5v-6.5M857.5 179.5v6.5M857.5 1055.5v-6.5M875.5 179.5v6.5M875.5 1055.5v-6.5M893.5 179.5v6.5M893.5 1055.5v-6.5M911.5 179.5v12.5M911.5 1055.5v-12.5M929.5 179.5v6.5M929.5 1055.5v-6.5M947.5 179.5v6.5M947.5 1055.5v-6.5M965.5 179.5v6.5M965.5 1055.5v-6.5M983.5 179.5v6.5M983.5 1055.5v-6.5M1001.5 179.5v6.5M1001.5 1055.5v-6.5M1019.5 179.5v6.5M1019.5 1055.5v-6.5M1037.5 179.5v6.5M1037.5 1055.5v-6.5M1055.5 179.5v6.5M1055.5 1055.5v-6.5M1073.5 179.5v6.5M1073.5 1055.5v-6.5M1090.5 179.5v12.5M1090.5 1055.5v-12.5M1108.5 179.5v6.5M1108.5 1055.5v-6.5M1126.5 179.5v6.5M1126.5 1055.5v-6.5M1144.5 179.5v6.5M1144.5 1055.5v-6.5M194.5 191.5h6.5M1154.5 191.5h-6.5M194.5 203.5h6.5M1154.5 203.5h-6.5M194.5 215.5h6.5M1154.5 215.5h-6.5M194.5 227.5h6.5M1154.5 227.5h-6.5M194.5 239.5h6.5M1154.5 239.5h-6.5M194.5 250.5h6.5M1154.5 250.5h-6.5M194.5 262.5h6.5M1154.5 262.5h-6.5M194.5 274.5h6.5M1154.5 274.5h-6.5M194.5 286.5h6.5M1154.5 286.5h-6.5M194.5 298.5h12.5M1154.5 298.5h-12.5M194.5 309.5h6.5M1154.5 309.5h-6.5M194.5 321.5h6.5M1154.5 321.5h-6.5M194.5 333.5h6.5M1154.5 333.5h-6.5M194.5 345.5h6.5M1154.5 345.5h-6.5M194.5 357.5h6.5M1154.5 357.5h-6.5M194.5 369.5h6.5M1154.5 369.5h-6.5M194.5 380.5h6.5M1154.5 380.5h-6.5M194.5 392.5h6.5M1154.5 392.5h-6.5M194.5 404.5h6.5M1154.5 404.5h-6.5M194.5 416.5h12.5M1154.5 416.5h-12.5M194.5 428.5h6.5M1154.5 428.5h-6.5M194.5 440.5h6.5M1154.5 440.5h-6.5M194.5 451.5h6.5M1154.5 451.5h-6.5M194.5 463.5h6.5M1154.5 463.5h-6.5M194.5 475.5h6.5M1154.5 475.5h-6.5M194.5 487.5h6.5M1154.5 487.5h-6.5M194.5 499.5h6.5M1154.5 499.5h-6.5M194.5 511.5h6.5M1154.5 511.5h-6.5M194.5 522.5h6.5M1154.5 522.5h-6.5M194.5 534.5h12.5M1154.5 534.5h-12.5M194.5 546.5h6.5M1154.5 546.5h-6.5M194.5 558.5h6.5M1154.5 558.5h-6.5M194.5 570.5h6.5M1154.5 570.5h-6.5M194.5 581.5h6.5M1154.5 581.5h-6.5M194.5 593.5h6.5M1154.5 593.5h-6.5M194.5 605.5h6.5M1154.5 605.5h-6.5M194.5 617.5h6.5M1154.5 617.5h-6.5M194.5 629.5h6.5M1154.5 629.5h-6.5M194.5 641.5h6.5M1154.5 641.5h-6.5M194.5 652.5h12.5M1154.5 652.5h-12.5M194.5 664.5h6.5M1154.5 664.5h-6.5M194.5 676.5h6.5M1154.5 676.5h-6.5M194.5 688.5h6.5M1154.5 688.5h-6.5M194.5 700.5h6.5M1154.5 700.5h-6.5M194.5 712.5h6.5M1154.5 712.5h-6.5M194.5 723.5h6.5M1154.5 723.5h-6.5M194.5 735.5h6.5M1154.5 735.5h-6.5M194.5 747.5h6.5M1154.5 747.5h-6.5M194.5 759.5h6.5M1154.5 759.5h-6.5M194.5 771.5h12.5M1154.5 771.5h-12.5M194.5 783.5h6.5M1154.5 783.5h-6.5M194.5 794.5h6.5M1154.5 794.5h-6.5M194.5 806.5h6.5M1154.5 806.5h-6.5M194.5 818.5h6.5M1154.5 818.5h-6.5M194.5 830.5h6.5M1154.5 830.5h-6.5M194.5 842.5h6.5M1154.5 842.5h-6.5M194.5 853.5h6.5M1154.5 853.5h-6.5M194.5 865.5h6.5M1154.5 865.5h-6.5M194.5 877.5h6.5M1154.5 877.5h-6.5M194.5 889.5h12.5M1154.5 889.5h-12.5M194.5 901.5h6.5M1154.5 901.5h-6.5M194.5 913.5h6.5M1154.5 913.5h-6.5M194.5 924.5h6.5M1154.5 924.5h-6.5M194.5 936.5h6.5M1154.5 936.5h-6.5M194.5 948.5h6.5M1154.5 948.5h-6.5M194.5 960.5h6.5M1154.5 960.5h-6.5M194.5 972.5h6.5M1154.5 972.5h-6.5M194.5 984.5h6.5M1154.5 984.5h-6.5M194.5 995.5h6.5M1154.5 995.5h-6.5M194.5 1007.5h12.5M1154.5 1007.5h-12.5M194.5 1019.5h6.5M1154.5 1019.5h-6.5M194.5 1031.5h6.5M1154.5 1031.5h-6.5M194.5 1043.5h6.5M1154.5 1043.5h-6.5"/>
<text class="ax" x="141.5" y="185.9" textLength="31.5" lengthAdjust="spacingAndGlyphs">300</text>
<text class="ax" x="141.5" y="304.2" textLength="31.5" lengthAdjust="spacingAndGlyphs">400</text>
<text class="ax" x="141.5" y="422.4" textLength="31.5" lengthAdjust="spacingAndGlyphs">500</text>
<text class="ax" x="141.5" y="540.7" textLength="31.5" lengthAdjust="spacingAndGlyphs">600</text>
<text class="ax" x="141.5" y="658.9" textLength="31.5" lengthAdjust="spacingAndGlyphs">700</text>
<text class="ax" x="141.5" y="777.2" textLength="31.5" lengthAdjust="spacingAndGlyphs">800</text>
<text class="ax" x="141.5" y="895.5" textLength="31.5" lengthAdjust="spacingAndGlyphs">900</text>
<text class="ax" x="130.5" y="1013.7" textLength="42.5" lengthAdjust="spacingAndGlyphs">1000</text>
<text class="ax" x="190" y="1080" textLength="9.6" lengthAdjust="spacingAndGlyphs">0</text>
<text class="ax" x="357.6" y="1080" textLength="32" lengthAdjust="spacingAndGlyphs">100</text>
<text class="ax" x="537.0" y="1080" textLength="32" lengthAdjust="spacingAndGlyphs">200</text>
<text class="ax" x="716.3" y="1080" textLength="32" lengthAdjust="spacingAndGlyphs">300</text>
<text class="ax" x="895.6" y="1080" textLength="32" lengthAdjust="spacingAndGlyphs">400</text>
<text class="ax" x="1075.0" y="1080" textLength="32" lengthAdjust="spacingAndGlyphs">500</text>
<text x="195.6" y="1104.5" font-size="23.2" textLength="28.8" lengthAdjust="spacingAndGlyphs">SW</text>
<text x="1140" y="1105" font-size="23.2" textLength="28.9" lengthAdjust="spacingAndGlyphs">NE</text>
<text x="592.9" y="1104.5" font-size="23.2" textLength="96" lengthAdjust="spacingAndGlyphs">Distance</text>
<text x="703.1" y="1104.5" font-size="23.2" textLength="52.5" lengthAdjust="spacingAndGlyphs">(km)</text>
<text transform="translate(134.8 703.5) rotate(-90)" font-size="23.2" textLength="97.2" lengthAdjust="spacingAndGlyphs">Pressure</text>
<text transform="translate(134.8 589.8) rotate(-90)" font-size="23.2" textLength="57.7" lengthAdjust="spacingAndGlyphs">(hPa)</text>
<text x="81.9" y="26.2" font-size="27.0" style="fill:#000;stroke:#fff;stroke-width:0.35px" textLength="51.8" lengthAdjust="spacingAndGlyphs">Init:</text>
<text x="150.6" y="26.2" font-size="27.0" style="fill:#000;stroke:#fff;stroke-width:0.35px" textLength="29.0" lengthAdjust="spacingAndGlyphs">00</text>
<text x="195.9" y="26.2" font-size="27.0" style="fill:#000;stroke:#fff;stroke-width:0.35px" textLength="47.4" lengthAdjust="spacingAndGlyphs">UTC</text>
<text x="259.6" y="26.2" font-size="27.0" style="fill:#000;stroke:#fff;stroke-width:0.35px" textLength="46.0" lengthAdjust="spacingAndGlyphs">Tue</text>
<text x="320.4" y="26.2" font-size="27.0" style="fill:#000;stroke:#fff;stroke-width:0.35px" textLength="28.1" lengthAdjust="spacingAndGlyphs">02</text>
<text x="363.3" y="26.2" font-size="27.0" style="fill:#000;stroke:#fff;stroke-width:0.35px" textLength="43.9" lengthAdjust="spacingAndGlyphs">Jan</text>
<text x="427.0" y="26.2" font-size="27.0" style="fill:#000;stroke:#fff;stroke-width:0.35px" textLength="25.2" lengthAdjust="spacingAndGlyphs">18</text>
<text x="1068.3" y="25.6" font-size="27.0" style="fill:#000;stroke:#fff;stroke-width:0.35px" textLength="61.3" lengthAdjust="spacingAndGlyphs">Fcst:</text>
<text x="1185.0" y="25.6" font-size="27.0" style="fill:#000;stroke:#fff;stroke-width:0.35px" textLength="12.8" lengthAdjust="spacingAndGlyphs">2</text>
<text x="1214.1" y="25.6" font-size="27.0" style="fill:#000;stroke:#fff;stroke-width:0.35px" textLength="14.8" lengthAdjust="spacingAndGlyphs">h</text>
<text x="535.4" y="51.6" font-size="27.0" style="fill:#000;stroke:#fff;stroke-width:0.35px" textLength="71.1" lengthAdjust="spacingAndGlyphs">Valid:</text>
<text x="622.8" y="51.6" font-size="27.0" style="fill:#000;stroke:#fff;stroke-width:0.35px" textLength="29.0" lengthAdjust="spacingAndGlyphs">02</text>
<text x="668.7" y="51.6" font-size="27.0" style="fill:#000;stroke:#fff;stroke-width:0.35px" textLength="45.9" lengthAdjust="spacingAndGlyphs">UTC</text>
<text x="732.4" y="51.6" font-size="27.0" style="fill:#000;stroke:#fff;stroke-width:0.35px" textLength="44.5" lengthAdjust="spacingAndGlyphs">Tue</text>
<text x="793.1" y="51.6" font-size="27.0" style="fill:#000;stroke:#fff;stroke-width:0.35px" textLength="28.2" lengthAdjust="spacingAndGlyphs">02</text>
<text x="836.1" y="51.6" font-size="27.0" style="fill:#000;stroke:#fff;stroke-width:0.35px" textLength="43.0" lengthAdjust="spacingAndGlyphs">Jan</text>
<text x="898.9" y="51.6" font-size="27.0" style="fill:#000;stroke:#fff;stroke-width:0.35px" textLength="24.6" lengthAdjust="spacingAndGlyphs">18</text>
<text x="940.0" y="51.6" font-size="27.0" style="fill:#000;stroke:#fff;stroke-width:0.35px" textLength="38.5" lengthAdjust="spacingAndGlyphs">(21</text>
<text x="996.3" y="51.6" font-size="27.0" style="fill:#000;stroke:#fff;stroke-width:0.35px" textLength="43.0" lengthAdjust="spacingAndGlyphs">EST</text>
<text x="1056.4" y="51.6" font-size="27.0" style="fill:#000;stroke:#fff;stroke-width:0.35px" textLength="49.5" lengthAdjust="spacingAndGlyphs">Mon</text>
<text x="1122.8" y="51.6" font-size="27.0" style="fill:#000;stroke:#fff;stroke-width:0.35px" textLength="26.7" lengthAdjust="spacingAndGlyphs">01</text>
<text x="1168.1" y="51.6" font-size="27.0" style="fill:#000;stroke:#fff;stroke-width:0.35px" textLength="41.5" lengthAdjust="spacingAndGlyphs">Jan</text>
<text x="1227.4" y="51.6" font-size="27.0" style="fill:#000;stroke:#fff;stroke-width:0.35px" textLength="38.5" lengthAdjust="spacingAndGlyphs">18)</text>
<text x="88.8" y="76.6" font-size="23.8" style="fill:#000;stroke:#fff;stroke-width:0.35px" textLength="60.5" lengthAdjust="spacingAndGlyphs">Moist</text>
<text x="164.4" y="76.6" font-size="23.8" style="fill:#000;stroke:#fff;stroke-width:0.35px" textLength="111.6" lengthAdjust="spacingAndGlyphs">Potential</text>
<text x="290.3" y="76.6" font-size="23.8" style="fill:#000;stroke:#fff;stroke-width:0.35px" textLength="105.8" lengthAdjust="spacingAndGlyphs">Vorticity</text>
<text x="88.8" y="101.8" font-size="23.8" style="fill:#484848;stroke:#fff;stroke-width:0.35px" textLength="129.2" lengthAdjust="spacingAndGlyphs">Saturation</text>
<text x="233.1" y="101.8" font-size="23.8" style="fill:#484848;stroke:#fff;stroke-width:0.35px" textLength="129.0" lengthAdjust="spacingAndGlyphs">Equivalent</text>
<text x="376.5" y="101.8" font-size="23.8" style="fill:#484848;stroke:#fff;stroke-width:0.35px" textLength="111.5" lengthAdjust="spacingAndGlyphs">Potential</text>
<text x="500.9" y="101.8" font-size="23.8" style="fill:#484848;stroke:#fff;stroke-width:0.35px" textLength="159.5" lengthAdjust="spacingAndGlyphs">Temperature</text>
<text x="675.4" y="101.8" font-size="23.8" style="fill:#484848;stroke:#fff;stroke-width:0.35px" textLength="34.2" lengthAdjust="spacingAndGlyphs">(K)</text>
<text x="88.8" y="125.5" font-size="23.8" style="fill:#000;stroke:#fff;stroke-width:0.35px" textLength="135.3" lengthAdjust="spacingAndGlyphs">Circulation</text>
<text x="238.2" y="125.5" font-size="23.8" style="fill:#000;stroke:#fff;stroke-width:0.35px" textLength="91.2" lengthAdjust="spacingAndGlyphs">Vectors</text>
<rect x="1190.5" y="179.50" width="19.0" height="48.97" fill="#ffffff"/>
<rect x="1190.5" y="228.17" width="19.0" height="48.97" fill="#ffffff"/>
<rect x="1190.5" y="276.83" width="19.0" height="48.97" fill="#b8e5fa"/>
<rect x="1190.5" y="325.50" width="19.0" height="48.97" fill="#aed4fa"/>
<rect x="1190.5" y="374.17" width="19.0" height="48.97" fill="#a6c5fb"/>
<rect x="1190.5" y="422.83" width="19.0" height="48.97" fill="#9eb5fb"/>
<rect x="1190.5" y="471.50" width="19.0" height="48.97" fill="#96a5fc"/>
<rect x="1190.5" y="520.17" width="19.0" height="48.97" fill="#8d94fc"/>
<rect x="1190.5" y="568.83" width="19.0" height="48.97" fill="#8383fd"/>
<rect x="1190.5" y="617.50" width="19.0" height="48.97" fill="#7575fd"/>
<rect x="1190.5" y="666.17" width="19.0" height="48.97" fill="#6666fd"/>
<rect x="1190.5" y="714.83" width="19.0" height="48.97" fill="#5858fe"/>
<rect x="1190.5" y="763.50" width="19.0" height="48.97" fill="#4949fe"/>
<rect x="1190.5" y="812.17" width="19.0" height="48.97" fill="#3a3afe"/>
<rect x="1190.5" y="860.83" width="19.0" height="48.97" fill="#2c2cfe"/>
<rect x="1190.5" y="909.50" width="19.0" height="48.97" fill="#1d1dff"/>
<rect x="1190.5" y="958.17" width="19.0" height="48.97" fill="#0f0fff"/>
<rect x="1190.5" y="1006.83" width="19.0" height="48.97" fill="#0000ff"/>
<path class="tk" d="M1190.5 228.5H1209.5M1190.5 276.5H1209.5M1190.5 325.5H1209.5M1190.5 374.5H1209.5M1190.5 422.5H1209.5M1190.5 471.5H1209.5M1190.5 520.5H1209.5M1190.5 568.5H1209.5M1190.5 617.5H1209.5M1190.5 666.5H1209.5M1190.5 714.5H1209.5M1190.5 763.5H1209.5M1190.5 812.5H1209.5M1190.5 860.5H1209.5M1190.5 909.5H1209.5M1190.5 958.5H1209.5M1190.5 1006.5H1209.5"/>
<rect class="tk" x="1190.5" y="179.5" width="19.0" height="876.0"/>
<text x="1219" y="185.5" font-size="15.5" textLength="33" lengthAdjust="spacingAndGlyphs">PVU</text>
<text x="1219.6" y="233.6" font-size="16" textLength="8.0" lengthAdjust="spacingAndGlyphs">0</text>
<text x="1219.6" y="282.2" font-size="16" textLength="36.8" lengthAdjust="spacingAndGlyphs">−.25</text>
<text x="1219.6" y="330.9" font-size="16" textLength="28.0" lengthAdjust="spacingAndGlyphs">−.5</text>
<text x="1219.6" y="379.6" font-size="16" textLength="36.8" lengthAdjust="spacingAndGlyphs">−.75</text>
<text x="1219.6" y="428.2" font-size="16" textLength="21.3" lengthAdjust="spacingAndGlyphs">−1</text>
<text x="1219.6" y="476.9" font-size="16" textLength="47.0" lengthAdjust="spacingAndGlyphs">−1.25</text>
<text x="1219.6" y="525.6" font-size="16" textLength="36.8" lengthAdjust="spacingAndGlyphs">−1.5</text>
<text x="1219.6" y="574.2" font-size="16" textLength="47.0" lengthAdjust="spacingAndGlyphs">−1.75</text>
<text x="1219.6" y="622.9" font-size="16" textLength="21.3" lengthAdjust="spacingAndGlyphs">−2</text>
<text x="1219.6" y="671.6" font-size="16" textLength="47.0" lengthAdjust="spacingAndGlyphs">−2.25</text>
<text x="1219.6" y="720.2" font-size="16" textLength="36.8" lengthAdjust="spacingAndGlyphs">−2.5</text>
<text x="1219.6" y="768.9" font-size="16" textLength="47.0" lengthAdjust="spacingAndGlyphs">−2.75</text>
<text x="1219.6" y="817.6" font-size="16" textLength="21.3" lengthAdjust="spacingAndGlyphs">−3</text>
<text x="1219.6" y="866.2" font-size="16" textLength="47.0" lengthAdjust="spacingAndGlyphs">−3.25</text>
<text x="1219.6" y="914.9" font-size="16" textLength="36.8" lengthAdjust="spacingAndGlyphs">−3.5</text>
<text x="1219.6" y="963.6" font-size="16" textLength="47.0" lengthAdjust="spacingAndGlyphs">−3.75</text>
<text x="1219.6" y="1012.2" font-size="16" textLength="21.3" lengthAdjust="spacingAndGlyphs">−4</text>
<text x="341.1" y="1172.3" font-size="17.8" style="fill:#000" textLength="77.0" lengthAdjust="spacingAndGlyphs">MAXIMUM</text>
<text x="430.0" y="1172.3" font-size="17.8" style="fill:#000" textLength="69.6" lengthAdjust="spacingAndGlyphs">VECTOR:</text>
<text x="518.9" y="1172.3" font-size="17.8" style="fill:#000" textLength="37.0" lengthAdjust="spacingAndGlyphs">35.8</text>
<text x="564.8" y="1172.3" font-size="17.8" style="fill:#000" textLength="16.3" lengthAdjust="spacingAndGlyphs">m</text>
<text x="590.6" y="1172.3" font-size="17.8" style="fill:#000" textLength="8.3" lengthAdjust="spacingAndGlyphs">s</text>
<text x="599.5" y="1165.8" font-size="12.5" style="fill:#000" textLength="15.7" lengthAdjust="spacingAndGlyphs">−1</text>
<text x="624.7" y="1172.3" font-size="17.8" style="fill:#000" textLength="65.3" lengthAdjust="spacingAndGlyphs">(HORIZ)</text>
<text x="770.9" y="1172.3" font-size="17.8" style="fill:#000" textLength="33.2" lengthAdjust="spacingAndGlyphs">14.2</text>
<text x="815.3" y="1172.3" font-size="17.8" style="fill:#000" textLength="30.8" lengthAdjust="spacingAndGlyphs">dPa</text>
<text x="856.5" y="1172.3" font-size="17.8" style="fill:#000" textLength="7.4" lengthAdjust="spacingAndGlyphs">s</text>
<text x="864.8" y="1165.8" font-size="12.5" style="fill:#000" textLength="15.7" lengthAdjust="spacingAndGlyphs">−1</text>
<text x="891.5" y="1172.3" font-size="17.8" style="fill:#000" textLength="55.7" lengthAdjust="spacingAndGlyphs">(VERT)</text>
<text x="284.2" y="1191.0" font-size="18.2" style="fill:#3c3c3c" textLength="95.4" lengthAdjust="spacingAndGlyphs">CONTOURS:</text>
<text x="398.9" y="1191.0" font-size="18.2" style="fill:#3c3c3c" textLength="76.1" lengthAdjust="spacingAndGlyphs">UNITS=K</text>
<text x="492.8" y="1191.0" font-size="18.2" style="fill:#3c3c3c" textLength="46.2" lengthAdjust="spacingAndGlyphs">LOW=</text>
<text x="557.4" y="1191.0" font-size="18.2" style="fill:#3c3c3c" textLength="57.8" lengthAdjust="spacingAndGlyphs">260.00</text>
<text x="668.4" y="1191.0" font-size="18.2" style="fill:#3c3c3c" textLength="54.2" lengthAdjust="spacingAndGlyphs">HIGH=</text>
<text x="742.4" y="1191.0" font-size="18.2" style="fill:#3c3c3c" textLength="56.6" lengthAdjust="spacingAndGlyphs">424.00</text>
<text x="852.1" y="1191.0" font-size="18.2" style="fill:#3c3c3c" textLength="94.2" lengthAdjust="spacingAndGlyphs">INTERVAL=</text>
<text x="973.0" y="1191.0" font-size="18.2" style="fill:#3c3c3c" textLength="57.1" lengthAdjust="spacingAndGlyphs">4.0000</text>
<path class="ar" style="stroke-width:1.9" d="M1234 1166H1158.4M1174.7 1158.6L1158.4 1166L1174.7 1174.2M1234 1166.9V1150"/>
<path d="M1231 1152.4V1150.4L1232.4 1150.2L1232.7 1146.6H1235.3L1235.6 1150.2L1237 1150.4V1152.4Z" fill="#000"/>
</svg></body></html>
